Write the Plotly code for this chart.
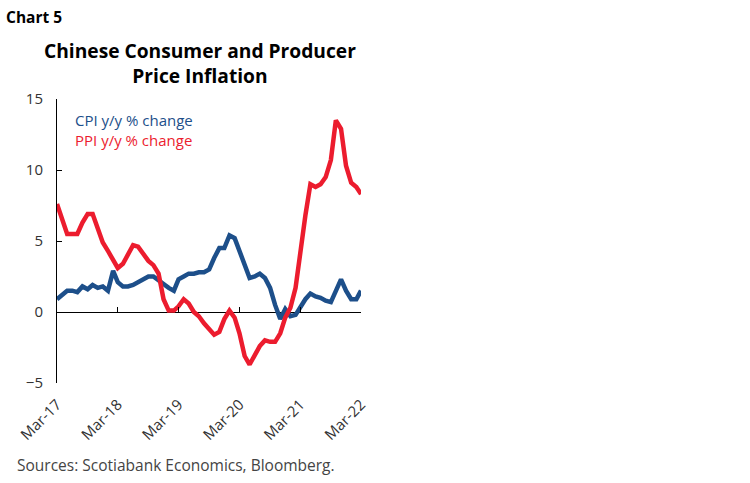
import plotly.graph_objects as go
import pandas as pd

dates = pd.date_range("2017-03-01", "2022-03-01", freq="MS")

cpi = [0.9, 1.2, 1.5, 1.5, 1.4, 1.8, 1.6, 1.9, 1.7, 1.8,
       1.5, 2.9, 2.1, 1.8, 1.8, 1.9, 2.1, 2.3, 2.5, 2.5, 2.2, 1.9,
       1.7, 1.5, 2.3, 2.5, 2.7, 2.7, 2.8, 2.8, 3.0, 3.8, 4.5, 4.5,
       5.4, 5.2, 4.3, 3.3, 2.4, 2.5, 2.7, 2.4, 1.7, 0.5, -0.5, 0.2,
       -0.3, -0.2, 0.4, 0.9, 1.3, 1.1, 1.0, 0.8, 0.7, 1.5, 2.3, 1.5,
       0.9, 0.9, 1.5]

ppi = [7.6, 6.4, 5.5, 5.5, 5.5, 6.3, 6.9, 6.9, 5.8, 4.9,
       4.3, 3.7, 3.1, 3.4, 4.1, 4.7, 4.6, 4.1, 3.6, 3.3, 2.7, 0.9,
       0.1, 0.1, 0.4, 0.9, 0.6, 0.0, -0.3, -0.8, -1.2, -1.6, -1.4, -0.5,
       0.1, -0.4, -1.5, -3.1, -3.7, -3.0, -2.4, -2.0, -2.1, -2.1, -1.5, -0.4,
       0.3, 1.7, 4.4, 6.8, 9.0, 8.8, 9.0, 9.5, 10.7, 13.5, 12.9, 10.3,
       9.1, 8.8, 8.3]

tick_dates = ["2017-03-01", "2018-03-01", "2019-03-01", "2020-03-01", "2021-03-01", "2022-03-01"]
tick_labels = ["Mar-17", "Mar-18", "Mar-19", "Mar-20", "Mar-21", "Mar-22"]
y_ticks = [-5, 0, 5, 10, 15]

BLUE = "#1d4f8a"
RED = "#ec1c2e"
FONT = "Open Sans"

# plot area target (page pixels): x 57..361, y 99..383; body margin removed below
L, R, T, B = 57, 750 - 361, 99, 483 - 383
PW, PH = 750 - L - R, 483 - T - B


def px(xp):
    return (xp - L) / PW


def py(yp):
    return 1 - (yp - T) / PH


fig = go.Figure()
fig.add_trace(go.Scatter(x=dates, y=cpi, mode="lines", name="CPI y/y % change",
                         line=dict(color=BLUE, width=4.5), xaxis="x", yaxis="y"))
fig.add_trace(go.Scatter(x=dates, y=ppi, mode="lines", name="PPI y/y % change",
                         line=dict(color=RED, width=4.5), xaxis="x2", yaxis="y"))

xr = ["2017-03-01", "2022-03-01"]
fig.update_layout(
    width=750, height=483,
    margin=dict(l=L, r=R, t=T, b=B),
    paper_bgcolor="white", plot_bgcolor="white",
    showlegend=False,
    font=dict(family=FONT, color="#333333", size=14),
    xaxis=dict(type="date", range=xr, tickvals=tick_dates, ticktext=tick_labels,
               tickangle=-45, showgrid=False, zeroline=False, showline=False,
               ticks="", ticklabelstandoff=9,
               tickfont=dict(size=15, color="#333333")),
    xaxis2=dict(type="date", range=xr, matches="x", overlaying="x", anchor="free",
                position=0.25, tickvals=tick_dates, showticklabels=False,
                ticks="inside", ticklen=5, tickcolor="black", tickwidth=1,
                showgrid=False, zeroline=False, showline=False),
    yaxis=dict(range=[-5, 15], tickvals=y_ticks, showgrid=False,
               zeroline=True, zerolinecolor="black", zerolinewidth=1,
               showline=True, linecolor="black", linewidth=1,
               ticks="inside", ticklen=5, tickcolor="black",
               tickfont=dict(size=15, color="#333333"), ticklabelstandoff=10),
)

fig.add_annotation(text="<b>Chart 5</b>", xref="paper", yref="paper",
                   x=px(4), y=py(17), xanchor="left", yanchor="middle",
                   showarrow=False, font=dict(family=FONT, size=15.5, color="black"))
fig.add_annotation(text="<b>Chinese Consumer and Producer<br>Price Inflation</b>",
                   xref="paper", yref="paper", x=px(200), y=py(63),
                   xanchor="center", yanchor="middle", showarrow=False,
                   font=dict(family=FONT, size=19.2, color="black"))
fig.add_annotation(text=(f"<span style='color:{BLUE}'>CPI y/y % change</span><br>"
                         f"<span style='color:{RED}'>PPI y/y % change</span>"),
                   xref="paper", yref="paper", align="left",
                   x=px(73), y=py(130), xanchor="left", yanchor="middle",
                   showarrow=False, font=dict(family=FONT, size=15))
fig.add_annotation(text="Sources: Scotiabank Economics, Bloomberg.", xref="paper", yref="paper",
                   x=px(15), y=py(465), xanchor="left", yanchor="middle",
                   showarrow=False, font=dict(family=FONT, size=15.5, color="#444444"))

fig.write_html("out.html", config={"displayModeBar": False},
               post_script="document.body.style.margin='0';document.body.style.padding='0';")
